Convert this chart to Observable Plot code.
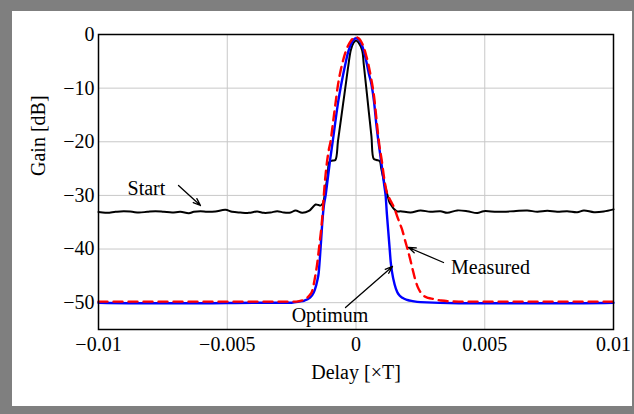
<!DOCTYPE html>
<html>
<head>
<meta charset="utf-8">
<script src="https://cdn.jsdelivr.net/npm/d3@7"></script>
<script src="https://cdn.jsdelivr.net/npm/@observablehq/plot@0.6"></script>
<style>
  html, body { margin: 0; padding: 0; width: 634px; height: 414px; background: #7f7f7f; overflow: hidden; }
  #panel { position: absolute; left: 12px; top: 11px; width: 620px; height: 395px; background: #ffffff; }
</style>
</head>
<body>
<div id="panel"></div>
<script>
// Axis ticks and their labels
const xTicks = [-0.01, -0.005, 0, 0.005, 0.01];
const xTickLabels = ["\u22120.01", "\u22120.005", "0", "0.005", "0.01"];
const yTicks = [0, -10, -20, -30, -40, -50];
const yTickLabels = ["0", "\u221210", "\u221220", "\u221230", "\u221240", "\u221250"];

// Start: gain of the initial filter [dB] versus delay [×T]
const startDelay = [-0.0100, -0.00992, -0.00966, -0.00934, -0.00902, -0.00869, -0.00843, -0.00811, -0.00779, -0.00746,
  -0.00714, -0.00682, -0.00649, -0.0063, -0.00604, -0.00578, -0.00546, -0.00507, -0.00481, -0.00449,
  -0.00416, -0.00384, -0.00358, -0.00332, -0.00306, -0.0028, -0.00254, -0.00235, -0.00209, -0.00183,
  -0.00168, -0.00157, -0.00145, -0.00138, -0.00128, -0.0012, -0.0011, -0.00103, -0.0009, -0.0008,
  -0.0007, -0.0006, -0.0005, -0.0004, -0.0003, -0.0002, -0.0001, 0, 0.0001, 0.00024,
  0.0003, 0.0004, 0.0005, 0.0006, 0.00069, 0.0008, 0.00092, 0.00098, 0.00108, 0.00121,
  0.0013, 0.00138, 0.00147, 0.0016, 0.00173, 0.00212, 0.0025, 0.00289, 0.00328, 0.00354,
  0.00393, 0.00432, 0.00471, 0.00496, 0.00548, 0.00613, 0.00665, 0.00704, 0.00743, 0.00781,
  0.0082, 0.00859, 0.00885, 0.00924, 0.00962, 0.0100];
const startGain = [-33.1, -33.12, -33.25, -33.06, -32.94, -33.06, -33.19, -33.06, -32.94, -33.06,
  -33.19, -33.06, -33.31, -33.06, -32.94, -33.06, -33.0, -32.69, -33.06, -33.19,
  -33.25, -33.0, -33.25, -33.19, -32.94, -33.19, -33.19, -32.81, -33.25, -32.9,
  -32.2, -31.7, -31.8, -31.9, -31.4, -29.2, -26.3, -23.7, -23.5, -23.4,
  -19.9, -16.4, -12.9, -9.4, -5.9, -2.9, -1.6, -1.1, -1.5, -3.0,
  -5.5, -10.0, -14.5, -19.0, -23.2, -23.4, -23.6, -25.0, -27.2, -29.7,
  -31.3, -31.9, -32.5, -33.0, -32.94, -33.2, -32.8, -33.06, -32.94, -33.25,
  -32.8, -32.94, -33.3, -32.94, -33.06, -32.94, -32.8, -33.06, -32.88, -33.06,
  -32.94, -33.13, -32.8, -33.13, -33.0, -32.6];

// Optimum: designed response
const optimumDelay = [-0.0100, -0.0080, -0.0060, -0.0040, -0.0030, -0.0025, -0.0022, -0.0020, -0.0018, -0.0017,
  -0.0016, -0.0015, -0.00145, -0.0014, -0.00135, -0.0013, -0.00125, -0.00118, -0.0011, -0.0010,
  -0.0009, -0.0008, -0.0007, -0.0006, -0.0005, -0.0004, -0.0003, -0.0002, -0.0001, 0,
  0.0001, 0.0002, 0.0003, 0.0004, 0.0005, 0.0006, 0.0007, 0.0008, 0.0009, 0.0010,
  0.0011, 0.00115, 0.0012, 0.00125, 0.0013, 0.00135, 0.0014, 0.0015, 0.0016, 0.0017,
  0.0018, 0.0020, 0.0022, 0.0025, 0.0040, 0.0060, 0.0080, 0.0100];
const optimumGain = [-50.0, -50.1, -50.1, -50.0, -50.0, -50.0, -49.8, -49.6, -49.1, -48.6,
  -47.6, -45.8, -44.5, -41.5, -38.0, -34.5, -32.0, -30.0, -27.0, -23.2,
  -19.8, -16.2, -12.8, -10.0, -7.5, -5.2, -3.2, -1.8, -1.0, -0.7,
  -0.9, -1.7, -3.0, -5.0, -7.3, -9.3, -12.5, -17.2, -21.0, -24.5,
  -28.2, -30.0, -33.5, -36.5, -39.5, -42.5, -44.3, -46.6, -48.0, -48.7,
  -49.1, -49.5, -49.7, -49.9, -50.1, -50.1, -50.1, -50.0];

// Measured: response of the realised filter
const measuredDelay = [-0.0100, -0.0080, -0.0060, -0.0040, -0.0030, -0.0024, -0.0022, -0.0020, -0.0018, -0.0017,
  -0.0016, -0.0015, -0.00144, -0.0013, -0.00125, -0.00106, -0.00099, -0.0009, -0.0008, -0.0007,
  -0.0006, -0.0005, -0.0004, -0.0003, -0.0002, -0.0001, 0, 0.0001, 0.0002, 0.0003,
  0.0004, 0.0005, 0.0006, 0.0007, 0.0008, 0.0009, 0.0010, 0.0011, 0.0012, 0.0013,
  0.0014, 0.0015, 0.0016, 0.0017, 0.0018, 0.0019, 0.0020, 0.0021, 0.0022, 0.0023,
  0.0024, 0.0025, 0.0026, 0.0028, 0.0030, 0.0033, 0.0040, 0.0060, 0.0080, 0.0100];
const measuredGain = [-49.8, -49.8, -49.8, -49.8, -49.8, -49.8, -49.7, -49.4, -48.6, -47.8,
  -45.5, -42.5, -40.0, -33.5, -30.0, -21.6, -20.0, -16.7, -13.0, -9.4,
  -6.8, -4.8, -3.2, -2.0, -1.2, -0.7, -0.5, -0.7, -1.3, -2.4,
  -4.0, -6.0, -8.5, -11.5, -16.0, -20.4, -23.5, -27.0, -29.5, -30.6,
  -31.5, -32.5, -33.9, -35.2, -36.5, -38.3, -40.0, -41.8, -43.8, -45.7,
  -47.1, -48.0, -48.6, -49.1, -49.3, -49.6, -49.8, -49.8, -49.8, -49.8];

// Curve labels with their pointer arrows (data coordinates)
const labelNames = ["Start", "Measured", "Optimum"];
const labelDelay = [-0.00814, 0.005223, -0.00101];
const labelGain = [-28.8, -43.37, -52.5];
const arrowFromDelay = [-0.006893, 0.003398, -0.000408];
const arrowFromGain = [-28.15, -42.51, -50.9];
const arrowToDelay = [-0.006039, 0.002039, 0.001417];
const arrowToGain = [-31.88, -39.71, -43.25];

const toRows = (xs, ys) => xs.map((x, i) => ({delay: x, gain: ys[i]}));
const startRows = toRows(startDelay, startGain);
const optimumRows = toRows(optimumDelay, optimumGain);
const measuredRows = toRows(measuredDelay, measuredGain);
const labelRows = labelNames.map((name, i) => ({name, x: labelDelay[i], y: labelGain[i]}));
const arrowRows = labelNames.map((name, i) => ({
  x1: arrowFromDelay[i], y1: arrowFromGain[i], x2: arrowToDelay[i], y2: arrowToGain[i]
}));

const gridColor = "#c8c8c8";

const chart = Plot.plot({
  width: 620,
  height: 395,
  marginLeft: 86,
  marginRight: 19,
  marginTop: 23,
  marginBottom: 77,
  style: {
    fontFamily: "'Liberation Serif', 'Times New Roman', serif",
    fontSize: "20px",
    background: "#ffffff",
    color: "#000000",
    overflow: "visible"
  },
  x: {domain: [-0.01, 0.01]},
  y: {domain: [-55, 0]},
  marks: [
    Plot.gridX(xTicks, {stroke: gridColor, strokeOpacity: 1, strokeWidth: 1}),
    Plot.gridY(yTicks, {stroke: gridColor, strokeOpacity: 1, strokeWidth: 1}),
    Plot.axisX(xTicks, {
      tickSize: 0, tickPadding: 7, label: null, fontSize: 20,
      tickFormat: d => xTickLabels[xTicks.indexOf(d)]
    }),
    Plot.axisY(yTicks, {
      tickSize: 0, tickPadding: 4, label: null, fontSize: 20,
      tickFormat: d => yTickLabels[yTicks.indexOf(d)]
    }),
    Plot.text(["Delay [\u00d7T]"], {frameAnchor: "bottom", dy: 43, lineAnchor: "middle", fontSize: 20}),
    Plot.text(["Gain [dB]"], {frameAnchor: "left", dx: -60, dy: -6, rotate: -90, lineAnchor: "middle", fontSize: 20}),
    Plot.line(startRows, {x: "delay", y: "gain", stroke: "#000000", strokeWidth: 2, curve: "catmull-rom"}),
    Plot.line(optimumRows, {x: "delay", y: "gain", stroke: "#0000ff", strokeWidth: 2.4, curve: "monotone-x"}),
    Plot.line(measuredRows, {x: "delay", y: "gain", stroke: "#ff0000", strokeWidth: 2.4, strokeDasharray: "9,6", curve: "monotone-x"}),
    Plot.arrow(arrowRows, {x1: "x1", y1: "y1", x2: "x2", y2: "y2", stroke: "#000000", strokeWidth: 1.3, headLength: 9, headAngle: 40}),
    Plot.text(labelRows, {x: "x", y: "y", text: "name", lineAnchor: "middle", textAnchor: "middle", fontSize: 20, fill: "#000000"}),
    Plot.frame({stroke: "#000000", strokeWidth: 1.5})
  ]
});

document.getElementById("panel").appendChild(chart);
</script>
</body>
</html>
